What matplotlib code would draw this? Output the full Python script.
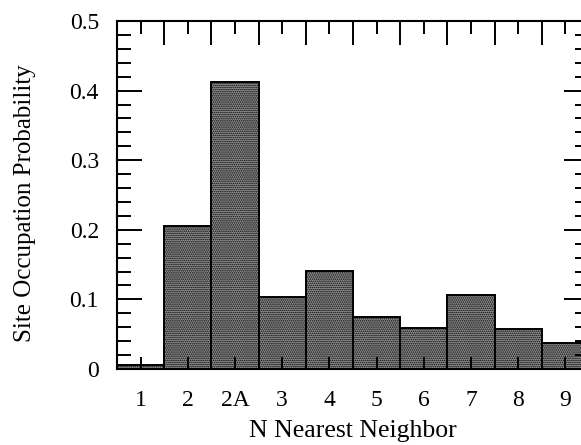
import numpy as np
import matplotlib
matplotlib.use("Agg")
import matplotlib.pyplot as plt
from matplotlib.ticker import MultipleLocator, FixedLocator, FuncFormatter

# neighbor shells and the occupation probability
neighbors = ["1", "2", "2A", "3", "4", "5", "6", "7", "8", "9"]
probability = [0.006, 0.205, 0.412, 0.103, 0.141, 0.074, 0.059, 0.107, 0.057, 0.038]

plt.rcParams["font.family"] = ["Liberation Serif", "DejaVu Serif"]
plt.rcParams["hatch.linewidth"] = 0.8

fig = plt.figure(figsize=(5.81, 4.45), dpi=100)
ax = fig.add_axes([117 / 581, 76 / 445, 472 / 581, 348 / 445])

pos = np.arange(1, len(neighbors) + 1)
ax.bar(pos, probability, width=1.0, color="#969696", edgecolor="black",
       linewidth=1.4, hatch="........")

ax.set_xlim(0.5, 10.5)
ax.set_ylim(0, 0.5)

# labels sit on bar centres, long ticks on bar edges
ax.xaxis.set_major_locator(FixedLocator(pos))
ax.set_xticklabels(neighbors)
ax.xaxis.set_minor_locator(FixedLocator(pos[:-1] + 0.5))
ax.yaxis.set_major_locator(MultipleLocator(0.1))
ax.yaxis.set_minor_locator(MultipleLocator(0.02))
ax.yaxis.set_major_formatter(FuncFormatter(lambda v, p: "0" if abs(v) < 1e-9 else f"{v:.1f}"))

ax.tick_params(axis="x", which="major", direction="in", top=True, bottom=True,
               length=9, width=1.4, labelsize=17, pad=15)
ax.tick_params(axis="x", which="minor", direction="in", top=True, bottom=True,
               length=17, width=1.4)
ax.tick_params(axis="y", which="major", direction="in", left=True, right=True,
               length=18, width=1.4, labelsize=17, pad=13)
ax.tick_params(axis="y", which="minor", direction="in", left=True, right=True,
               length=10, width=1.4)

for s in ax.spines.values():
    s.set_linewidth(1.5)

ax.set_xlabel("N Nearest Neighbor", fontsize=18.5)
ax.xaxis.set_label_coords(0.5, -0.146)
ax.set_ylabel("Site Occupation Probability", fontsize=18)
ax.yaxis.set_label_coords(-0.172, 0.477)

fig.savefig("out.png", dpi=100)
